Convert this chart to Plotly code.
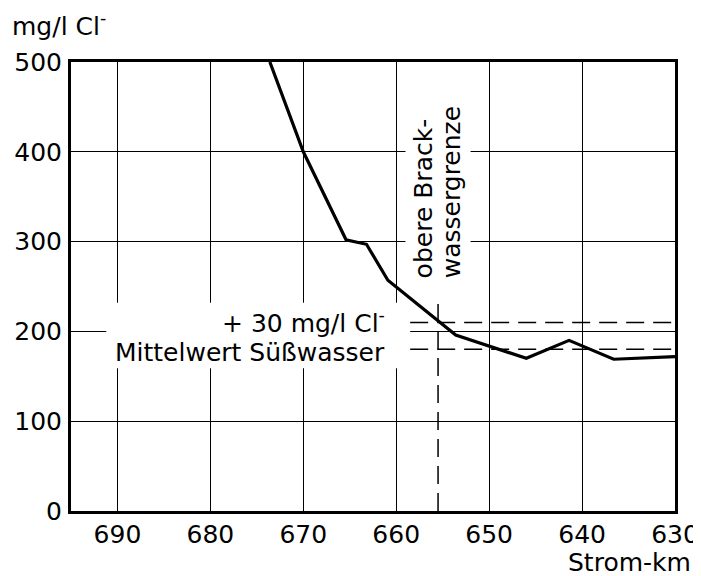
import plotly.graph_objects as go

# data
km = [673.6, 670.0, 665.4, 663.2, 660.9, 653.6, 646.0, 641.4, 636.6, 630.0]
chlorid = [500, 400, 302, 297, 257, 196, 170, 190, 169, 172]
x_ticks = [690, 680, 670, 660, 650, 640, 630]
y_ticks = [0, 100, 200, 300, 400, 500]
mittelwert = 180
grenze_wert = 210
grenze_km = 655.5

FONT = "DejaVu Sans"
FS = 25

# page body has an 8px margin; compensate
W, H = 693, 568
ML, MR, MT, MB = 63, 26, 54, 65
PW = W - ML - MR
PH = H - MT - MB


def px(xp):  # page x pixel -> paper coordinate
    return (xp - 8 - ML) / PW


def py(yp):  # page y pixel -> paper coordinate
    return 1 - (yp - 8 - MT) / PH


fig = go.Figure()
fig.add_trace(go.Scatter(x=km, y=chlorid, mode="lines",
                         line=dict(color="black", width=3.2), hoverinfo="skip"))

dash = "18px,9px"
for v in [grenze_wert, mittelwert]:
    fig.add_shape(type="line", x0=658.5, x1=630, y0=v, y1=v,
                  line=dict(color="black", width=1.5, dash=dash), layer="above")
fig.add_shape(type="line", x0=grenze_km, x1=grenze_km, y0=0, y1=237,
              line=dict(color="black", width=1.5, dash=dash), layer="above")

fig.add_shape(type="rect", x0=691.2, x1=658.5, y0=159, y1=232,
              fillcolor="white", line=dict(width=0), layer="between")
fig.add_shape(type="rect", x0=659.0, x1=652.0, y0=237, y1=500,
              fillcolor="white", line=dict(width=0), layer="between")

fig.add_annotation(x=661.0, y=210.5, xref="x", yref="y", text="+ 30 mg/l Cl<sup>-</sup>",
                   showarrow=False, xanchor="right", yanchor="middle",
                   font=dict(family=FONT, size=FS, color="black"))
fig.add_annotation(x=690.5, y=177, xref="x", yref="y", text="Mittelwert Süßwasser",
                   showarrow=False, xanchor="left", yanchor="middle",
                   font=dict(family=FONT, size=FS, color="black"))
fig.add_annotation(x=657.1, y=257, xref="x", yref="y",
                   text="obere Brack-", textangle=-90,
                   showarrow=False, xanchor="center", yanchor="bottom",
                   font=dict(family=FONT, size=FS, color="black"))
fig.add_annotation(x=654.1, y=257, xref="x", yref="y",
                   text="wassergrenze", textangle=-90,
                   showarrow=False, xanchor="center", yanchor="bottom",
                   font=dict(family=FONT, size=FS, color="black"))

fig.add_annotation(x=px(10), y=py(25), xref="paper", yref="paper",
                   text="mg/l Cl<sup>-</sup>", showarrow=False, xanchor="left", yanchor="middle",
                   font=dict(family=FONT, size=FS, color="black"))
fig.add_annotation(x=px(693), y=py(562), xref="paper", yref="paper",
                   text="Strom-km", showarrow=False, xanchor="right", yanchor="middle",
                   font=dict(family=FONT, size=FS, color="black"))

fig.update_layout(
    width=W, height=H,
    margin=dict(l=ML, r=MR, t=MT, b=MB, pad=0),
    plot_bgcolor="white", paper_bgcolor="white",
    showlegend=False,
    font=dict(family=FONT, size=FS, color="black"),
)
fig.update_xaxes(range=[695, 630], tickvals=x_ticks, ticktext=[str(v) for v in x_ticks],
                 showgrid=True, gridcolor="black", gridwidth=1,
                 showline=True, linecolor="black", linewidth=3, mirror=True,
                 ticks="", zeroline=False, ticklabelstandoff=-1, automargin=False,
                 tickfont=dict(family=FONT, size=FS, color="black"))
fig.update_yaxes(range=[0, 500], tickvals=y_ticks, ticktext=[str(v) for v in y_ticks],
                 showgrid=True, gridcolor="black", gridwidth=1,
                 showline=True, linecolor="black", linewidth=3, mirror=True,
                 ticks="", zeroline=False, ticklabelstandoff=1, automargin=False,
                 tickfont=dict(family=FONT, size=FS, color="black"))

fig.write_html("out.html")
